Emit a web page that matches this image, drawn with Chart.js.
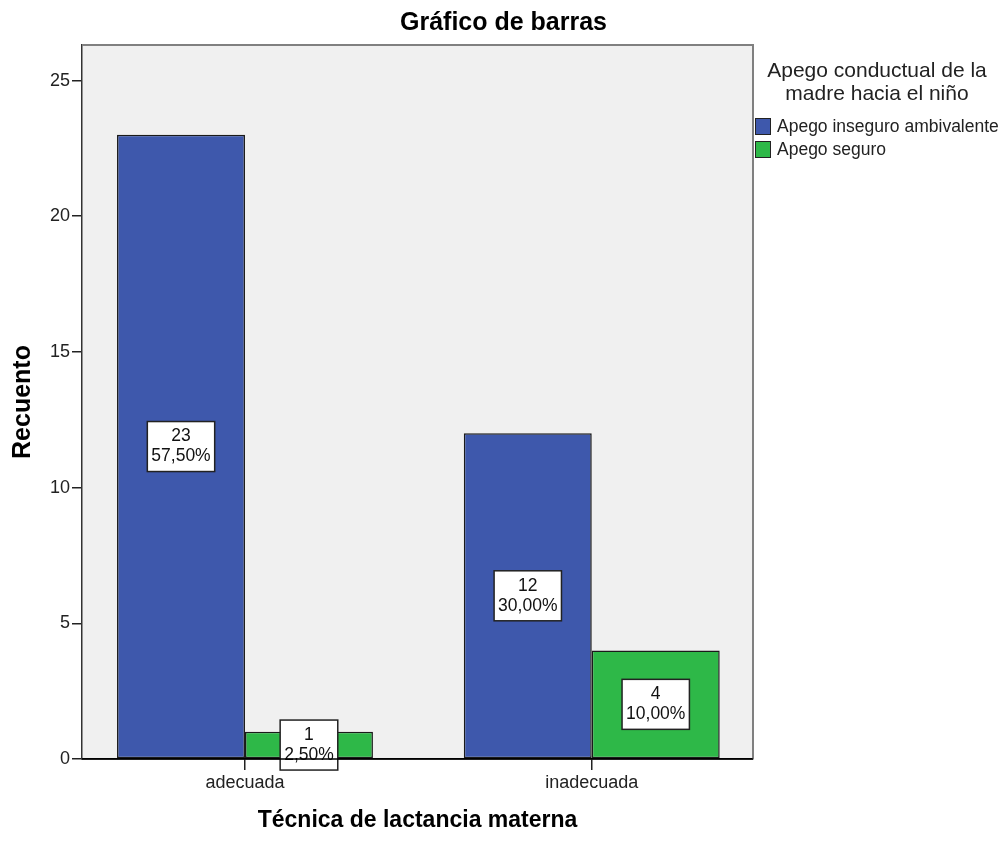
<!DOCTYPE html>
<html>
<head>
<meta charset="utf-8">
<script src="https://cdn.jsdelivr.net/npm/chart.js@4"></script>
<style>
  body { margin: 0; background: #fff; }
</style>
</head>
<body>
<canvas id="chart" width="1007" height="843"></canvas>
<script>
const categories = ['adecuada', 'inadecuada'];
const seriesNames = ['Apego inseguro ambivalente', 'Apego seguro'];
const insecureCounts = [23, 12];
const secureCounts = [1, 4];
const insecurePct = ['57,50%', '30,00%'];
const securePct = ['2,50%', '10,00%'];
const yTicks = [0, 5, 10, 15, 20, 25];

const FONT = "'Liberation Sans', Arial, sans-serif";

// plot background + frame, drawn around the datasets
const plotFrame = {
    id: 'plotFrame',
    beforeDraw(chart) {
        const { ctx, chartArea: a } = chart;
        ctx.save();
        ctx.fillStyle = '#f0f0f0';
        ctx.fillRect(a.left, a.top, a.right - a.left, a.bottom - a.top);
        ctx.restore();
    },
    afterDraw(chart) {
        const { ctx, chartArea: a } = chart;
        ctx.save();
        ctx.strokeStyle = '#808080';
        ctx.lineWidth = 2;
        ctx.beginPath();
        ctx.moveTo(a.left, a.top);
        ctx.lineTo(a.right, a.top);
        ctx.lineTo(a.right, a.bottom);
        ctx.stroke();
        // bottom axis goes over the label boxes
        ctx.strokeStyle = '#000';
        ctx.lineWidth = 1.5;
        ctx.beginPath();
        ctx.moveTo(a.left, a.bottom);
        ctx.lineTo(a.right, a.bottom);
        ctx.stroke();
        ctx.restore();
    }
};

// white boxes with count and percentage in the middle of each bar
const barLabels = {
    id: 'barLabels',
    afterDatasetsDraw(chart) {
        const ctx = chart.ctx;
        ctx.save();
        ctx.font = '17.5px ' + FONT;
        ctx.textAlign = 'center';
        ctx.textBaseline = 'middle';
        chart.data.datasets.forEach((ds, di) => {
            chart.getDatasetMeta(di).data.forEach((bar, i) => {
                const lines = [String(ds.data[i].y), ds.pct[i]];
                const w = Math.max(...lines.map(t => ctx.measureText(t).width)) + 8;
                const h = 50;
                const cy = (bar.y + bar.base) / 2;
                ctx.fillStyle = '#fff';
                ctx.fillRect(bar.x - w / 2, cy - h / 2, w, h);
                ctx.strokeStyle = '#222';
                ctx.lineWidth = 1.5;
                ctx.strokeRect(bar.x - w / 2, cy - h / 2, w, h);
                ctx.fillStyle = '#111';
                ctx.fillText(lines[0], bar.x, cy - 10);
                ctx.fillText(lines[1], bar.x, cy + 10);
            });
        });
        ctx.restore();
    }
};

// legend to the right of the plot
const sideLegend = {
    id: 'sideLegend',
    afterDraw(chart) {
        const { ctx, chartArea: a } = chart;
        const x0 = a.right + 2;
        ctx.save();
        ctx.fillStyle = '#222';
        ctx.font = '21px ' + FONT;
        ctx.textAlign = 'center';
        ctx.textBaseline = 'alphabetic';
        ctx.fillText('Apego conductual de la', x0 + 122, 77);
        ctx.fillText('madre hacia el niño', x0 + 122, 100);
        ctx.font = '17.5px ' + FONT;
        ctx.textAlign = 'left';
        ctx.textBaseline = 'middle';
        chart.data.datasets.forEach((ds, i) => {
            const y = 118 + i * 23;
            ctx.fillStyle = ds.backgroundColor;
            ctx.fillRect(x0, y, 15, 16);
            ctx.strokeStyle = '#222';
            ctx.lineWidth = 1;
            ctx.strokeRect(x0 + 0.5, y + 0.5, 15, 16);
            ctx.fillStyle = '#222';
            ctx.fillText(ds.label, x0 + 22, y + 9);
        });
        ctx.restore();
    }
};

new Chart(document.getElementById('chart'), {
    type: 'bar',
    data: {
        datasets: [{
            label: seriesNames[0],
            data: insecureCounts.map((v, i) => ({ x: i, y: v })),
            pct: insecurePct,
            backgroundColor: '#3e58ac',
            borderColor: '#1a1a1a',
            borderWidth: 1.5,
            borderSkipped: false
        }, {
            label: seriesNames[1],
            data: secureCounts.map((v, i) => ({ x: i, y: v })),
            pct: securePct,
            backgroundColor: '#2eb848',
            borderColor: '#1a1a1a',
            borderWidth: 1.5,
            borderSkipped: false
        }]
    },
    options: {
        responsive: false,
        animation: false,
        devicePixelRatio: 1,
        categoryPercentage: 0.738,
        barPercentage: 1,
        layout: { padding: 0 },
        plugins: {
            legend: { display: false },
            tooltip: { enabled: false },
            title: {
                display: true,
                text: 'Gráfico de barras',
                color: '#000',
                font: { family: FONT, size: 25, weight: 'bold' },
                padding: { top: 8, bottom: 7 }
            }
        },
        scales: {
            x: {
                type: 'linear',
                min: -0.47,
                max: 1.465,
                offset: false,
                afterBuildTicks: s => { s.ticks = categories.map((c, i) => ({ value: i })); },
                afterFit: s => { s.height = 84; },
                grid: { display: true, offset: false, drawOnChartArea: false, tickLength: 11, color: '#222', lineWidth: 1.5 },
                border: { display: true, color: '#000', width: 1.5 },
                ticks: {
                    color: '#222',
                    padding: 2,
                    font: { family: FONT, size: 18 },
                    callback: v => categories[v]
                },
                title: {
                    display: true,
                    text: 'Técnica de lactancia materna',
                    color: '#000',
                    font: { family: FONT, size: 23, weight: 'bold' },
                    padding: { top: 0, bottom: 9 }
                }
            },
            y: {
                min: 0,
                max: 26.31,
                afterBuildTicks: s => { s.ticks = yTicks.map(v => ({ value: v })); },
                afterFit: s => { s.width = 82; },
                grid: { display: true, drawOnChartArea: false, tickLength: 10, color: '#222', lineWidth: 1.5 },
                border: { display: true, color: '#333', width: 1.5 },
                ticks: {
                    color: '#222',
                    padding: 2,
                    font: { family: FONT, size: 18 }
                },
                title: {
                    display: true,
                    text: 'Recuento',
                    color: '#000',
                    font: { family: FONT, size: 25, weight: 'bold' },
                    padding: { top: 8 }
                }
            },
            legendSpace: {
                type: 'linear',
                position: 'right',
                display: true,
                grid: { display: false },
                border: { display: false },
                ticks: { display: false },
                afterFit: s => { s.width = 254; }
            }
        }
    },
    plugins: [plotFrame, barLabels, sideLegend]
});
</script>
</body>
</html>
